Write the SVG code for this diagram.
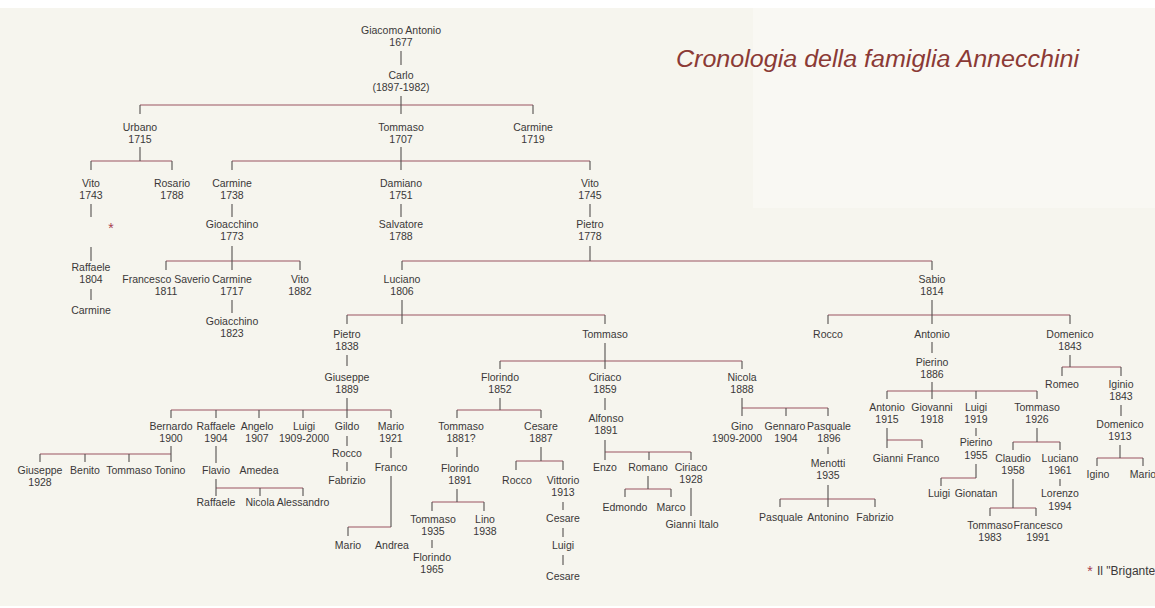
<svg xmlns="http://www.w3.org/2000/svg" width="1155" height="608" viewBox="0 0 1155 608">
<style>
text{font-family:"Liberation Sans",Arial,sans-serif;font-size:10.5px;fill:#3a3838;text-anchor:middle}
.h{stroke:#9a5560;stroke-width:1.2;fill:none}
.v{stroke:#555050;stroke-width:1.1;fill:none}
.star{fill:#a84050;font-size:14px}
.title{font-size:23px;font-style:italic;fill:#8b3a35;text-anchor:start}
</style>
<rect width="1155" height="608" fill="#ffffff"/>
<rect x="0" y="8" width="1155" height="598" fill="#f6f5ee"/>
<rect x="753" y="8" width="402" height="200" fill="#f9f8f3"/>
<text class="title" x="676" y="67" textLength="403" lengthAdjust="spacingAndGlyphs">Cronologia della famiglia Annecchini</text>
<g id="connectors">
<path class="h" d="M140 105H533M91 161H172M232 161H590M166 261H300M402 261H932M347 315H605M828 315H1070M500 361H742M1062 367H1121M887 391H1037M171 410H391M457 410H541M742 408H828M40 454H171M216 488H303M348 527H391M432 502H484M516 461H563M605 452H691M625 489H671M780 499H875M887 440H922M941 478H976M1013 442H1060M990 508H1036M1097 458H1143"/>
<path class="v" d="M401 51V65M401 96V114M140 105V114M533 105V114M140 147V161M91 161V170M172 161V170M401 147V170M232 161V170M590 161V170M91 204V217M91 247V261M91 289V300M232 204V217M232 246V270M166 261V270M300 261V270M232 300V313M401 204V217M590 204V217M590 246V261M402 261V270M932 261V270M402 300V324M347 315V324M605 315V324M932 300V324M828 315V324M1070 315V324M347 355V366M605 343V369M500 361V369M742 361V369M932 342V353M1070 355V367M1062 367V376M1121 367V376M932 382V399M887 391V399M976 391V399M1037 391V399M347 398V418M171 410V418M216 410V418M259 410V418M303 410V418M391 410V418M500 398V410M457 410V418M541 410V418M605 398V410M742 398V416M786 408V416M828 408V416M1121 405V416M171 446V462M40 454V462M85 454V462M129 454V462M216 446V463M216 479V496M260 488V496M303 488V496M347 436V446M347 462V471M391 447V458M391 476V527M348 527V536M457 447V457M457 489V502M432 502V511M484 502V511M432 540V548M541 447V461M516 461V470M563 461V470M563 502V510M563 528V537M563 555V565M605 440V460M649 452V460M691 452V460M648 476V489M625 489V497M671 489V497M691 488V516M828 447V454M828 485V507M780 499V507M875 499V507M887 428V448M922 440V448M976 428V436M976 464V478M941 478V486M1037 428V442M1013 442V450M1060 442V450M1013 479V508M990 508V516M1036 508V516M1060 479V486M1120 445V458M1097 458V466M1143 458V466"/>
</g>
<g id="n-giacomo"><text x="401" y="34">Giacomo Antonio</text><text x="401" y="46">1677</text></g>
<g id="n-carlo"><text x="401" y="79">Carlo</text><text x="401" y="91">(1897-1982)</text></g>
<g id="n-urbano"><text x="140" y="131">Urbano</text><text x="140" y="143">1715</text></g>
<g id="n-tommaso1707"><text x="401" y="131">Tommaso</text><text x="401" y="143">1707</text></g>
<g id="n-carmine1719"><text x="533" y="131">Carmine</text><text x="533" y="143">1719</text></g>
<g id="n-vito1743"><text x="91" y="187">Vito</text><text x="91" y="199">1743</text></g>
<g id="n-rosario"><text x="172" y="187">Rosario</text><text x="172" y="199">1788</text></g>
<g id="n-carmine1738"><text x="232" y="187">Carmine</text><text x="232" y="199">1738</text></g>
<g id="n-damiano"><text x="401" y="187">Damiano</text><text x="401" y="199">1751</text></g>
<g id="n-vito1745"><text x="590" y="187">Vito</text><text x="590" y="199">1745</text></g>
<g id="n-brigante-mark"><text class="star" x="111" y="233">*</text></g>
<g id="n-gioacchino1773"><text x="232" y="228">Gioacchino</text><text x="232" y="240">1773</text></g>
<g id="n-salvatore"><text x="401" y="228">Salvatore</text><text x="401" y="240">1788</text></g>
<g id="n-pietro1778"><text x="590" y="228">Pietro</text><text x="590" y="240">1778</text></g>
<g id="n-raffaele1804"><text x="91" y="271">Raffaele</text><text x="91" y="283">1804</text></g>
<g id="n-carmine-r"><text x="91" y="314">Carmine</text></g>
<g id="n-francesco1811"><text x="166" y="283">Francesco Saverio</text><text x="166" y="295">1811</text></g>
<g id="n-carmine1717"><text x="232" y="283">Carmine</text><text x="232" y="295">1717</text></g>
<g id="n-vito1882"><text x="300" y="283">Vito</text><text x="300" y="295">1882</text></g>
<g id="n-luciano1806"><text x="402" y="283">Luciano</text><text x="402" y="295">1806</text></g>
<g id="n-sabio"><text x="932" y="283">Sabio</text><text x="932" y="295">1814</text></g>
<g id="n-goiacchino"><text x="232" y="325">Goiacchino</text><text x="232" y="337">1823</text></g>
<g id="n-pietro1838"><text x="347" y="338">Pietro</text><text x="347" y="350">1838</text></g>
<g id="n-tommaso-l"><text x="605" y="338">Tommaso</text></g>
<g id="n-rocco-s"><text x="828" y="338">Rocco</text></g>
<g id="n-antonio-s"><text x="932" y="338">Antonio</text></g>
<g id="n-domenico1843"><text x="1070" y="338">Domenico</text><text x="1070" y="350">1843</text></g>
<g id="n-pierino1886"><text x="932" y="366">Pierino</text><text x="932" y="378">1886</text></g>
<g id="n-giuseppe1889"><text x="347" y="381">Giuseppe</text><text x="347" y="393">1889</text></g>
<g id="n-florindo1852"><text x="500" y="381">Florindo</text><text x="500" y="393">1852</text></g>
<g id="n-ciriaco1859"><text x="605" y="381">Ciriaco</text><text x="605" y="393">1859</text></g>
<g id="n-nicola1888"><text x="742" y="381">Nicola</text><text x="742" y="393">1888</text></g>
<g id="n-romeo"><text x="1062" y="388">Romeo</text></g>
<g id="n-iginio1843"><text x="1121" y="388">Iginio</text><text x="1121" y="400">1843</text></g>
<g id="n-antonio1915"><text x="887" y="411">Antonio</text><text x="887" y="423">1915</text></g>
<g id="n-giovanni1918"><text x="932" y="411">Giovanni</text><text x="932" y="423">1918</text></g>
<g id="n-luigi1919"><text x="976" y="411">Luigi</text><text x="976" y="423">1919</text></g>
<g id="n-tommaso1926"><text x="1037" y="411">Tommaso</text><text x="1037" y="423">1926</text></g>
<g id="n-alfonso"><text x="606" y="422">Alfonso</text><text x="606" y="434">1891</text></g>
<g id="n-domenico1913"><text x="1120" y="428">Domenico</text><text x="1120" y="440">1913</text></g>
<g id="n-bernardo"><text x="171" y="430">Bernardo</text><text x="171" y="442">1900</text></g>
<g id="n-raffaele1904"><text x="216" y="430">Raffaele</text><text x="216" y="442">1904</text></g>
<g id="n-angelo"><text x="257" y="430">Angelo</text><text x="257" y="442">1907</text></g>
<g id="n-luigi1909"><text x="304" y="430">Luigi</text><text x="304" y="442">1909-2000</text></g>
<g id="n-gildo"><text x="347" y="430">Gildo</text></g>
<g id="n-mario1921"><text x="391" y="430">Mario</text><text x="391" y="442">1921</text></g>
<g id="n-tommaso1881"><text x="461" y="430">Tommaso</text><text x="461" y="442">1881?</text></g>
<g id="n-cesare1887"><text x="541" y="430">Cesare</text><text x="541" y="442">1887</text></g>
<g id="n-gino"><text x="742" y="430">Gino</text><text x="737" y="442">1909-2000</text></g>
<g id="n-gennaro"><text x="785" y="430">Gennaro</text><text x="786" y="442">1904</text></g>
<g id="n-pasquale1896"><text x="829" y="430">Pasquale</text><text x="829" y="442">1896</text></g>
<g id="n-giuseppe1928"><text x="40" y="474">Giuseppe</text><text x="40" y="486">1928</text></g>
<g id="n-benito"><text x="85" y="474">Benito</text></g>
<g id="n-tommaso-b"><text x="129" y="474">Tommaso</text></g>
<g id="n-tonino"><text x="170" y="474">Tonino</text></g>
<g id="n-flavio"><text x="216" y="474">Flavio</text></g>
<g id="n-amedea"><text x="259" y="474">Amedea</text></g>
<g id="n-rocco-g"><text x="347" y="457">Rocco</text></g>
<g id="n-fabrizio-g"><text x="347" y="484">Fabrizio</text></g>
<g id="n-franco-m"><text x="391" y="471">Franco</text></g>
<g id="n-florindo1891"><text x="460" y="472">Florindo</text><text x="460" y="484">1891</text></g>
<g id="n-rocco-c"><text x="517" y="484">Rocco</text></g>
<g id="n-vittorio"><text x="563" y="484">Vittorio</text><text x="563" y="496">1913</text></g>
<g id="n-enzo"><text x="605" y="471">Enzo</text></g>
<g id="n-romano"><text x="648" y="471">Romano</text></g>
<g id="n-ciriaco1928"><text x="691" y="471">Ciriaco</text><text x="691" y="483">1928</text></g>
<g id="n-menotti"><text x="828" y="467">Menotti</text><text x="828" y="479">1935</text></g>
<g id="n-gianni-a"><text x="888" y="462">Gianni</text></g>
<g id="n-franco-a"><text x="923" y="462">Franco</text></g>
<g id="n-pierino1955"><text x="976" y="446">Pierino</text><text x="976" y="459">1955</text></g>
<g id="n-claudio"><text x="1013" y="462">Claudio</text><text x="1013" y="474">1958</text></g>
<g id="n-luciano1961"><text x="1060" y="462">Luciano</text><text x="1060" y="474">1961</text></g>
<g id="n-igino"><text x="1098" y="478">Igino</text></g>
<g id="n-mario-d"><text x="1143" y="478">Mario</text></g>
<g id="n-raffaele-f"><text x="216" y="506">Raffaele</text></g>
<g id="n-nicola-f"><text x="260" y="506">Nicola</text></g>
<g id="n-alessandro"><text x="303" y="506">Alessandro</text></g>
<g id="n-edmondo"><text x="625" y="511">Edmondo</text></g>
<g id="n-marco"><text x="671" y="511">Marco</text></g>
<g id="n-luigi-p"><text x="939" y="497">Luigi</text></g>
<g id="n-gionatan"><text x="976" y="497">Gionatan</text></g>
<g id="n-lorenzo"><text x="1060" y="497">Lorenzo</text><text x="1060" y="510">1994</text></g>
<g id="n-tommaso1935"><text x="433" y="523">Tommaso</text><text x="433" y="535">1935</text></g>
<g id="n-lino"><text x="485" y="523">Lino</text><text x="485" y="535">1938</text></g>
<g id="n-cesare-v"><text x="563" y="522">Cesare</text></g>
<g id="n-pasquale-m"><text x="781" y="521">Pasquale</text></g>
<g id="n-antonino"><text x="828" y="521">Antonino</text></g>
<g id="n-fabrizio-m"><text x="875" y="521">Fabrizio</text></g>
<g id="n-gianni-italo"><text x="692" y="528">Gianni Italo</text></g>
<g id="n-tommaso1983"><text x="990" y="529">Tommaso</text><text x="990" y="541">1983</text></g>
<g id="n-francesco1991"><text x="1038" y="529">Francesco</text><text x="1038" y="541">1991</text></g>
<g id="n-mario-f"><text x="348" y="549">Mario</text></g>
<g id="n-andrea"><text x="392" y="549">Andrea</text></g>
<g id="n-luigi-c"><text x="563" y="549">Luigi</text></g>
<g id="n-florindo1965"><text x="432" y="561">Florindo</text><text x="432" y="573">1965</text></g>
<g id="n-cesare-l"><text x="563" y="580">Cesare</text></g>
<g id="legend"><text class="star" x="1090" y="576">*</text><text x="1097" y="575" style="text-anchor:start;font-size:12px">Il "Brigante</text></g>
</svg>
